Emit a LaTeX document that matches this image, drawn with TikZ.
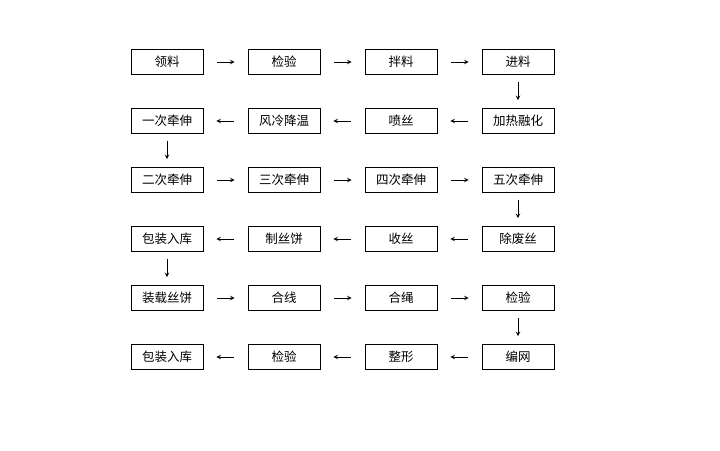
\documentclass[tikz,border=0pt]{standalone}
\usepackage{fontspec}
\setmainfont{Noto Sans CJK SC}
\tikzset{
  stepbox/.style={draw, line width=0.8pt, minimum width=72pt, minimum height=25pt, inner sep=0pt, font=\fontsize{12.5}{14}\selectfont},
  flow/.style={-stealth, line width=1pt}
}
\begin{document}
\begin{tikzpicture}[x=1pt, y=-1pt]
  \useasboundingbox (0,0) rectangle (720,450);
  \foreach \r/\a/\b/\c/\d in {1/领料/检验/拌料/进料, 2/一次牵伸/风冷降温/喷丝/加热融化,
      3/二次牵伸/三次牵伸/四次牵伸/五次牵伸, 4/包装入库/制丝饼/收丝/除废丝,
      5/装载丝饼/合线/合绳/检验, 6/包装入库/检验/整形/编网} {
    \node[stepbox] (n\r-1) at (167, 3 + 59*\r) {\a};
    \node[stepbox] (n\r-2) at (284, 3 + 59*\r) {\b};
    \node[stepbox] (n\r-3) at (401, 3 + 59*\r) {\c};
    \node[stepbox] (n\r-4) at (518, 3 + 59*\r) {\d};
  }

  % left to right rows
  \foreach \r in {1,3,5} {
    \foreach \c/\n in {1/2,2/3,3/4} {
      \draw[flow, shorten <=14pt, shorten >=13pt] (n\r-\c) -- (n\r-\n);
    }
  }
  % right to left rows
  \foreach \r in {2,4,6} {
    \foreach \c/\n in {4/3,3/2,2/1} {
      \draw[flow, shorten <=14pt, shorten >=13pt] (n\r-\c) -- (n\r-\n);
    }
  }
  % turns
  \foreach \r/\n/\c in {1/2/4, 2/3/1, 3/4/4, 4/5/1, 5/6/4} {
    \draw[flow, shorten <=7pt, shorten >=8pt] (n\r-\c) -- (n\n-\c);
  }
\end{tikzpicture}
\end{document}
